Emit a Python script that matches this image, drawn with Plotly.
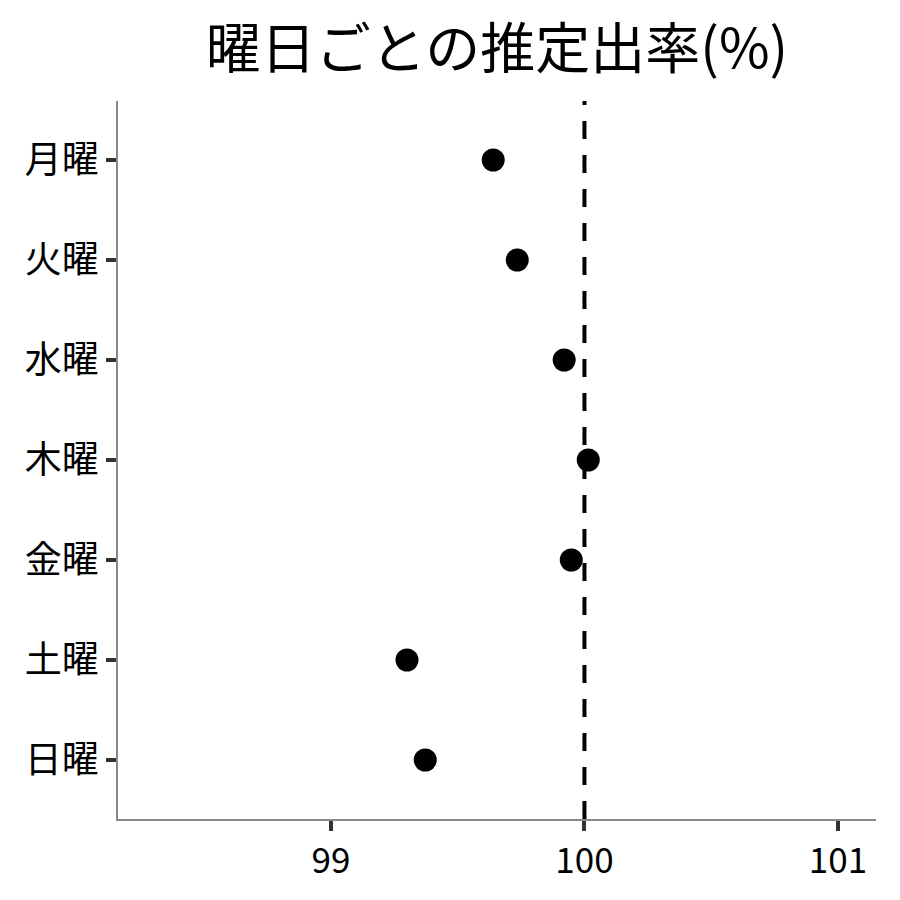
import plotly.graph_objects as go

days = ["月曜", "火曜", "水曜", "木曜", "金曜", "土曜", "日曜"]
rates = [99.64, 99.735, 99.92, 100.015, 99.948, 99.30, 99.372]
ref_value = 100
x_ticks = [99, 100, 101]

font_family = "Noto Sans CJK JP, Noto Sans, sans-serif"

fig = go.Figure()
fig.add_trace(go.Scatter(
    x=rates, y=days, mode="markers",
    marker=dict(color="black", size=23),
    showlegend=False,
))
fig.add_vline(x=ref_value, layer="below",
              line=dict(color="black", width=4, dash="18px,16px"))

fig.update_layout(
    width=900, height=900,
    paper_bgcolor="white", plot_bgcolor="white",
    margin=dict(l=110, r=32, t=93, b=89),
    title=dict(text="曜日ごとの推定出率(%)", xref="paper", x=0.5, xanchor="center",
               yref="container", y=0.955, yanchor="middle",
               font=dict(family=font_family, size=55, color="black")),
    font=dict(family=font_family, color="black"),
)
fig.update_xaxes(
    range=[98.16, 101.15], tickvals=x_ticks, ticktext=[str(v) for v in x_ticks],
    showgrid=False, zeroline=False, showline=True, linecolor="#888888", linewidth=1.5,
    ticks="outside", ticklen=10, tickwidth=3.5, tickcolor="#333333",
    tickfont=dict(size=35, family=font_family, color="black"),
)
fig.update_yaxes(
    categoryorder="array", categoryarray=days, range=[6.59, -0.59],
    showgrid=False, zeroline=False, showline=True, linecolor="#888888", linewidth=1.5,
    ticks="outside", ticklen=10, tickwidth=3.5, tickcolor="#333333",
    tickfont=dict(size=37, family=font_family, color="black"),
)

fig.write_html("out.html")
